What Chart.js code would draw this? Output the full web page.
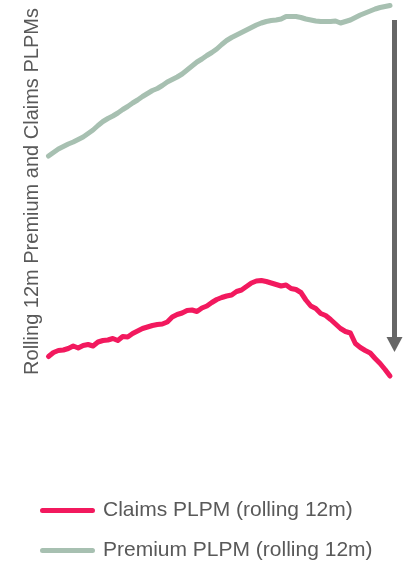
<!DOCTYPE html>
<html>
<head>
<meta charset="utf-8">
<title>Rolling 12m Premium and Claims PLPMs</title>
<script src="https://cdn.jsdelivr.net/npm/chart.js@4.4.1/dist/chart.umd.min.js"></script>
<style>
  html, body {
    margin: 0;
    padding: 0;
    background: #fff;
  }

  .chart-wrap {
    position: relative;
    width: 405px;
    height: 563px;
  }
</style>
</head>
<body>
<div class="chart-wrap">
  <canvas id="plpmChart"></canvas>
</div>
<script>
const claimsLabel = 'Claims PLPM (rolling 12m)';
const premiumLabel = 'Premium PLPM (rolling 12m)';
const yTitle = 'Rolling 12m Premium and Claims PLPMs';

// rolling 12m values per month
const claimsPlpm = [
  12.25, 14.25, 15.25, 15.5, 16.25, 17.5, 16.5, 17.75, 18.25, 17.5,
  19.5, 20.25, 20.5, 21.25, 20.25, 22.25, 22, 23.75, 25, 26.25,
  27, 27.75, 28.25, 28.5, 29.5, 32, 33.25, 34, 35.25, 35.5,
  34.75, 36.5, 37.5, 39.25, 40.75, 41.75, 42.5, 43, 44.75, 45.5,
  47.25, 49, 50, 50.25, 49.75, 49, 48.25, 47.5, 48, 46.25,
  45.75, 44.25, 40.5, 37.5, 36.25, 33.75, 32.75, 30.75, 28.5, 26.25,
  24.75, 24, 18.75, 16.75, 15.25, 14, 11.25, 8.75, 5.75, 2.5,
];

const premiumPlpm = [
  112.5, 114.25, 116, 117.25, 118.5, 119.5, 120.75, 122, 123.75, 125.5,
  127.75, 129.75, 131.25, 132.5, 134, 135.75, 137.25, 139, 140.5, 142.25,
  143.75, 145.25, 146.25, 147.75, 149.5, 150.75, 152, 153.5, 155.5, 157.5,
  159.5, 161, 162.75, 164.25, 166, 168.25, 170.25, 171.75, 173, 174.25,
  175.5, 176.75, 178, 179, 179.75, 180.25, 180.5, 181, 182.25, 182.25,
  182.25, 181.75, 181, 180.5, 180, 179.75, 179.75, 179.75, 180, 179,
  179.75, 180.5, 181.75, 183, 184, 185, 186, 186.75, 187.25, 187.75,
];

// month index 1..n, the axis labels are not shown
const months = claimsPlpm.map((_, i) => String(i + 1));

const yMin = 0;
const yMax = 189.5;

// down arrow on the right, from premium level to claims level
const arrowFrom = 180.5;
const arrowTo = 14.5;

const textColor = '#595959';
const claimsColor = '#F2195E';
const premiumColor = '#A7C0B1';

const arrowPlugin = {
  id: 'gapArrow',
  afterDatasetsDraw(chart) {
    const { ctx, scales } = chart;
    const x = scales.x.getPixelForValue(months.length - 1) + 4.5;
    const yTop = scales.y.getPixelForValue(arrowFrom);
    const yTip = scales.y.getPixelForValue(arrowTo);
    const headLen = 15;
    const headHalf = 8;

    ctx.save();
    ctx.fillStyle = '#666666';
    ctx.fillRect(x - 2.5, yTop, 5, yTip - headLen - yTop + 1);
    ctx.beginPath();
    ctx.moveTo(x - headHalf, yTip - headLen);
    ctx.lineTo(x + headHalf, yTip - headLen);
    ctx.lineTo(x, yTip);
    ctx.closePath();
    ctx.fill();
    ctx.restore();
  },
};

Chart.defaults.font.family = '"Liberation Sans", Arial, sans-serif';
Chart.defaults.color = textColor;

const chart = new Chart(document.getElementById('plpmChart'), {
  type: 'line',
  data: {
    labels: months,
    datasets: [
      {
        label: claimsLabel,
        data: claimsPlpm,
        borderColor: claimsColor,
        backgroundColor: claimsColor,
        borderWidth: 5,
        borderCapStyle: 'round',
        borderJoinStyle: 'round',
        pointRadius: 0,
        tension: 0,
        clip: false,
      },
      {
        label: premiumLabel,
        data: premiumPlpm,
        borderColor: premiumColor,
        backgroundColor: premiumColor,
        borderWidth: 5,
        borderCapStyle: 'round',
        borderJoinStyle: 'round',
        pointRadius: 0,
        tension: 0,
        clip: false,
      },
    ],
  },
  options: {
    responsive: true,
    maintainAspectRatio: false,
    animation: false,
    layout: {
      padding: { left: 23.5, right: 15, top: 2, bottom: -8 },
    },
    plugins: {
      legend: {
        position: 'bottom',
        align: 'start',
        labels: {
          boxWidth: 50,
          boxHeight: 0,
          padding: 19,
          color: textColor,
          font: { size: 21 },
        },
      },
      tooltip: { enabled: false },
    },
    scales: {
      x: {
        ticks: { display: false },
        grid: { display: false, drawTicks: false },
        border: { display: false },
        afterFit(scale) {
          scale.height = 100;
        },
      },
      y: {
        min: yMin,
        max: yMax,
        ticks: { display: false },
        grid: { display: false, drawTicks: false },
        border: { display: false },
        title: {
          display: true,
          text: yTitle,
          color: textColor,
          font: { size: 20 },
          padding: { top: -3.5, bottom: 4.5 },
        },
      },
    },
  },
  plugins: [arrowPlugin],
});
</script>
</body>
</html>
